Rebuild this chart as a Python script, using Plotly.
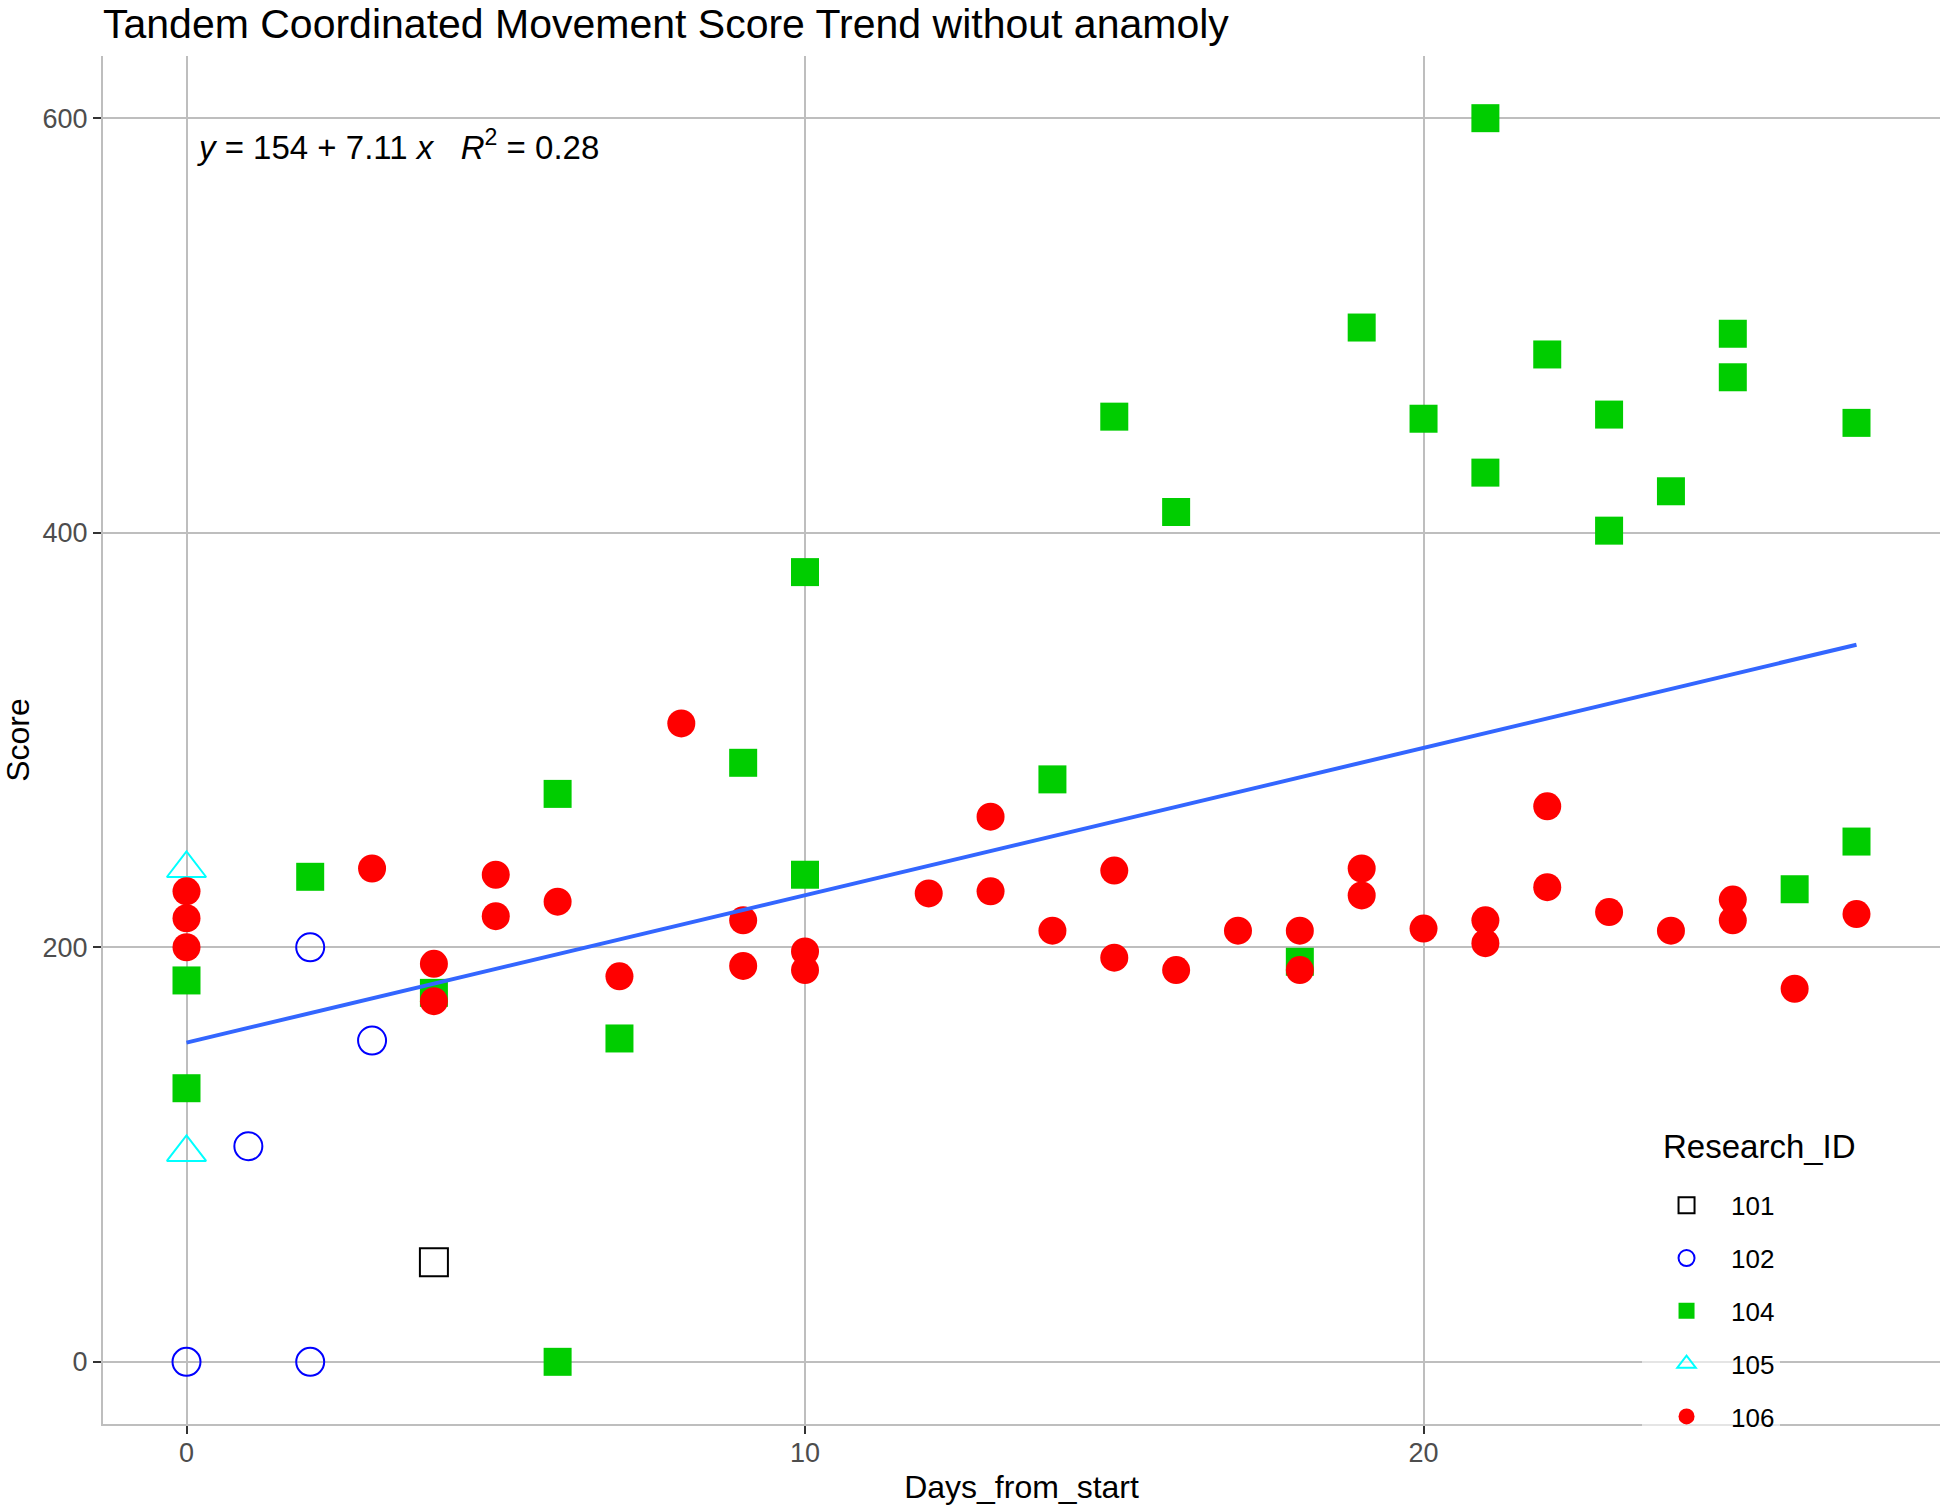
import numpy as np
import plotly.graph_objects as go

# ---------------- data ----------------
title_text = "Tandem Coordinated Movement Score Trend without anamoly"
x_title = "Days_from_start"
y_title = "Score"
legend_title = "Research_ID"

research_ids = ["101", "102", "104", "105", "106"]

days_101 = [4]
score_101 = [48]

days_102 = [0, 1, 2, 2, 3]
score_102 = [0, 104, 0, 200, 155]

days_104 = [0, 0, 2, 4, 6, 6, 7, 9, 10, 10, 14, 15, 16, 18, 19, 20, 21, 21,
            22, 23, 23, 24, 25, 25, 26, 27, 27]
score_104 = [184, 132, 234, 178, 274, 0, 156, 289, 381, 235, 281, 456, 410, 193,
             499, 455, 600, 429, 486, 457, 401, 420, 496, 475, 228, 453, 251]

days_105 = [0, 0]
score_105 = [238, 101]

days_106 = [0, 0, 0, 3, 4, 4, 5, 5, 6, 7, 8, 9, 9, 10, 10, 12, 13, 13, 14, 15,
            15, 16, 17, 18, 18, 19, 19, 20, 21, 21, 22, 22, 23, 24, 25, 25, 26, 27]
score_106 = [227, 214, 200, 238, 192, 174, 235, 215, 222, 186, 308, 213, 191, 198,
             189, 226, 263, 227, 208, 237, 195, 189, 208, 208, 189, 238, 225, 209,
             213, 202, 268, 229, 217, 208, 223, 213, 180, 216]

fit_intercept = 154
fit_slope = 7.11
fit_r2 = 0.28

x_tick_values = [0, 10, 20]
y_tick_values = [0, 200, 400, 600]

# ---------------- styles ----------------
FONT = "Liberation Sans, Arial, sans-serif"
styles = {
    "101": dict(symbol="square-open", color="#000000", size=28, lw=2),
    "102": dict(symbol="circle-open", color="#0000FF", size=28, lw=2),
    "104": dict(symbol="square", color="#00CD00", size=28, lw=0),
    "105": dict(symbol="triangle-up-open", color="#00FFFF", size=34, lw=2),
    "106": dict(symbol="circle", color="#FF0000", size=28, lw=0),
}
series = {
    "101": (days_101, score_101),
    "102": (days_102, score_102),
    "104": (days_104, score_104),
    "105": (days_105, score_105),
    "106": (days_106, score_106),
}

fig = go.Figure()
for rid in research_ids:
    xs, ys = series[rid]
    st = styles[rid]
    fig.add_trace(go.Scatter(
        x=xs, y=ys, mode="markers", name=rid, legendgroup=rid,
        marker=dict(symbol=st["symbol"], color=st["color"], size=st["size"],
                    line=dict(color=st["color"], width=st["lw"])),
    ))

all_x = days_101 + days_102 + days_104 + days_105 + days_106
all_y = score_101 + score_102 + score_104 + score_105 + score_106
fit_x = np.linspace(min(all_x), max(all_x), 80)
fit_y = fit_intercept + fit_slope * fit_x
fig.add_trace(go.Scatter(x=fit_x, y=fit_y, mode="lines", showlegend=False,
                         line=dict(color="#3366FF", width=4), hoverinfo="skip"))

# ggplot-like 5% expansion
xr = max(all_x) - min(all_x)
yr = max(all_y) - min(all_y)
x_range = [min(all_x) - 0.05 * xr, max(all_x) + 0.05 * xr]
y_range = [min(all_y) - 0.05 * yr, max(all_y) + 0.05 * yr]

axis_common = dict(
    showgrid=True, gridcolor="#BEBEBE", gridwidth=2,
    showline=True, linecolor="#BEBEBE", linewidth=2,
    zeroline=False, ticks="outside", ticklen=8, tickwidth=2, tickcolor="#333333",
    tickfont=dict(family=FONT, size=27, color="#4D4D4D"),
)

fig.update_xaxes(range=x_range, tickvals=x_tick_values, ticklabelstandoff=-4, **axis_common,
                 title=dict(text=x_title, font=dict(family=FONT, size=32, color="#000000"),
                            standoff=8))
fig.update_yaxes(range=y_range, tickvals=y_tick_values, **axis_common,
                 title=dict(text=y_title, font=dict(family=FONT, size=32, color="#000000"),
                            standoff=14))

eq_text = (f"<i>y</i> = {fit_intercept} + {fit_slope} <i>x</i>   "
           f"<i>R</i><sup>2</sup> = {fit_r2}")
fig.add_annotation(text=eq_text, xref="paper", yref="paper", x=0.05, y=0.935,
                   xanchor="left", yanchor="middle", showarrow=False,
                   font=dict(family=FONT, size=33, color="#000000"))

# legend title drawn as an annotation for exact placement
fig.add_annotation(text=legend_title, xref="paper", yref="paper", x=0.848, y=0.2025,
                   xanchor="left", yanchor="middle", showarrow=False,
                   font=dict(family=FONT, size=33, color="#000000"))

fig.update_layout(
    width=1944, height=1505,
    margin=dict(l=103, r=4, t=56, b=81),
    paper_bgcolor="white", plot_bgcolor="white",
    font=dict(family=FONT),
    title=dict(text=title_text, x=103 / 1944, xanchor="left", xref="container",
               y=1 - 24 / 1505, yanchor="middle", yref="container",
               font=dict(family=FONT, size=41, color="#000000")),
    legend=dict(
        font=dict(family=FONT, size=26, color="#000000"),
        x=0.8378, y=0.177, xanchor="left", yanchor="top",
        bgcolor="rgba(255,255,255,0.6)",
        traceorder="grouped", tracegroupgap=16, itemwidth=79,
    ),
    showlegend=True,
)

fig.write_html("out.html", config={"displayModeBar": False},
               post_script="document.body.style.margin='0';document.body.style.overflow='hidden';")
